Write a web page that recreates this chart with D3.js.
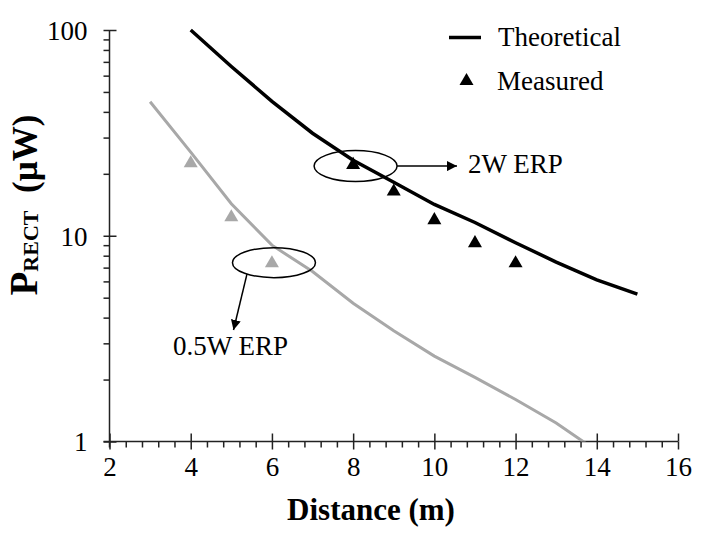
<!DOCTYPE html>
<html>
<head>
<meta charset="utf-8">
<script src="https://cdn.jsdelivr.net/npm/d3@7"></script>
<style>
  html, body { margin: 0; padding: 0; background: #fff; }
  svg { display: block; }
  text { font-family: "Liberation Serif", "Times New Roman", serif; fill: #000; }
</style>
</head>
<body>
<svg id="chart" width="702" height="535"></svg>
<script>
// ---- data ----
const theory2W_x = [4, 5, 6, 7, 8, 9, 10, 11, 12, 13, 14, 15];
const theory2W_y = [100, 66.5, 45, 31.5, 23.3, 18.2, 14.2, 11.6, 9.25, 7.45, 6.1, 5.2];
const theory05W_x = [3, 4, 5, 6, 7, 8, 9, 10, 11, 12, 13, 14, 15];
const theory05W_y = [44.8, 25.5, 14.3, 9.0, 6.7, 4.7, 3.45, 2.6, 2.05, 1.6, 1.23, 0.9, 0.72];
const meas2W_x = [8, 9, 10, 11, 12];
const meas2W_y = [22.1, 16.4, 11.9, 9.2, 7.35];
const meas05W_x = [4, 5, 6];
const meas05W_y = [22.5, 12.3, 7.35];
const xTicks = [2, 4, 6, 8, 10, 12, 14, 16];
const yTicks = [1, 10, 100];
const legendLabels = ["Theoretical", "Measured"];
const annotations = ["2W ERP", "0.5W ERP"];

// ---- layout ----
const svg = d3.select("#chart");
const X0 = 109.5, X1 = 678, Y0 = 441.5, Y1 = 30;
const x = d3.scaleLinear().domain([2, 16]).range([X0, X1]);
const y = d3.scaleLog().domain([1, 100]).range([Y0, Y1]);
const GRAY = "#a8a8a8";

svg.append("defs").append("clipPath").attr("id", "plotclip")
  .append("rect").attr("x", X0).attr("y", Y1 - 5).attr("width", X1 - X0).attr("height", Y0 - Y1 + 5);

// ---- axes ----
const axisColor = "#222";
const xMinor = d3.range(2, 16.001, 0.4).filter(v => Math.abs(v / 2 - Math.round(v / 2)) > 1e-6);
const gx = svg.append("g").attr("transform", `translate(0,${Y0})`);
gx.call(d3.axisBottom(x).tickValues(xTicks).tickSize(8).tickPadding(6).tickFormat(d3.format("d")));
gx.call(g => g.select(".domain").remove());
const gxUp = svg.append("g").attr("transform", `translate(0,${Y0})`);
gxUp.call(d3.axisBottom(x).tickValues(xTicks).tickSize(-8).tickFormat(""));
gxUp.select(".domain").remove();
const gxMin = svg.append("g").attr("transform", `translate(0,${Y0})`);
gxMin.call(d3.axisBottom(x).tickValues(xMinor).tickSize(6).tickFormat(""));
gxMin.select(".domain").remove();

const yMinor = [];
[1, 10].forEach(d => { for (let k = 2; k <= 9; k++) yMinor.push(d * k); });
const gy = svg.append("g").attr("transform", `translate(${X0},0)`);
gy.call(d3.axisLeft(y).tickValues(yTicks).tickSize(6).tickPadding(16).tickFormat(d3.format("d")));
gy.select(".domain").remove();
const gyR = svg.append("g").attr("transform", `translate(${X0},0)`);
gyR.call(d3.axisLeft(y).tickValues(yTicks).tickSize(-7).tickFormat(""));
gyR.select(".domain").remove();
const gyMin = svg.append("g").attr("transform", `translate(${X0},0)`);
gyMin.call(d3.axisLeft(y).tickValues(yMinor).tickSize(6).tickFormat(""));
gyMin.select(".domain").remove();

svg.selectAll(".tick line").attr("stroke", axisColor).attr("stroke-width", 1.5);
svg.selectAll(".tick text").attr("font-family", "Liberation Serif").attr("font-size", 27).attr("fill", "#000");
gx.selectAll(".tick text").attr("dy", "0.75em");
gy.selectAll(".tick text").attr("dy", "0.35em");

svg.append("line").attr("x1", X0 - 6).attr("x2", X1).attr("y1", Y0).attr("y2", Y0)
  .attr("stroke", axisColor).attr("stroke-width", 1.5);
svg.append("line").attr("x1", X0).attr("x2", X0).attr("y1", Y1).attr("y2", Y0 + 6)
  .attr("stroke", axisColor).attr("stroke-width", 1.5);

// axis titles
svg.append("text").attr("x", 371).attr("y", 520).attr("text-anchor", "middle")
  .attr("font-size", 31).attr("font-weight", "bold").text("Distance (m)");

const yl = svg.append("text").attr("transform", "translate(37,205) rotate(-90)")
  .attr("text-anchor", "middle").attr("font-weight", "bold");
yl.append("tspan").attr("font-size", 39).text("P");
yl.append("tspan").attr("font-size", 22).attr("dy", 1).text("RECT");
yl.append("tspan").attr("font-size", 35).attr("dy", -1).text("\u00A0\u00A0(\u00B5W)");

// ---- lines ----
const line = d3.line().x(d => x(d[0])).y(d => y(d[1]));
const plot = svg.append("g").attr("clip-path", "url(#plotclip)");
plot.append("path").datum(d3.zip(theory05W_x, theory05W_y)).attr("d", line)
  .attr("fill", "none").attr("stroke", GRAY).attr("stroke-width", 3);
plot.append("path").datum(d3.zip(theory2W_x, theory2W_y)).attr("d", line)
  .attr("fill", "none").attr("stroke", "#000").attr("stroke-width", 3.5);

// ---- markers ----
const tri = d3.symbol().type(d3.symbolTriangle).size(85);
svg.append("g").selectAll("path").data(d3.zip(meas05W_x, meas05W_y)).join("path")
  .attr("d", tri).attr("transform", d => `translate(${x(d[0])},${y(d[1])})`).attr("fill", GRAY);
svg.append("g").selectAll("path").data(d3.zip(meas2W_x, meas2W_y)).join("path")
  .attr("d", tri).attr("transform", d => `translate(${x(d[0])},${y(d[1])})`).attr("fill", "#000");

// ---- annotations ----
const defs = svg.select("defs");
defs.append("marker").attr("id", "arrow").attr("viewBox", "0 0 10 10").attr("refX", 10).attr("refY", 5)
  .attr("markerWidth", 10).attr("markerHeight", 10).attr("markerUnits", "userSpaceOnUse").attr("orient", "auto")
  .append("path").attr("d", "M0,0 L10,5 L0,10 Z").attr("fill", "#000");

svg.append("ellipse").attr("cx", x(8.06)).attr("cy", y(21.8)).attr("rx", 41.5).attr("ry", 15.5)
  .attr("fill", "none").attr("stroke", "#000").attr("stroke-width", 1.5);
svg.append("line").attr("x1", x(8.06) + 41.5).attr("y1", y(21.8)).attr("x2", 457).attr("y2", y(21.8))
  .attr("stroke", "#000").attr("stroke-width", 1.5).attr("marker-end", "url(#arrow)");
svg.append("text").attr("x", 468).attr("y", 173).attr("font-size", 27).text(annotations[0]);

const ex = x(6.05), ey = y(7.4);
svg.append("ellipse").attr("cx", ex).attr("cy", ey).attr("rx", 41.5).attr("ry", 15)
  .attr("fill", "none").attr("stroke", "#000").attr("stroke-width", 1.5);
svg.append("line").attr("x1", ex - 27).attr("y1", ey + 11.5).attr("x2", 233.5).attr("y2", 330)
  .attr("stroke", "#000").attr("stroke-width", 1.5).attr("marker-end", "url(#arrow)");
svg.append("text").attr("x", 173).attr("y", 355).attr("font-size", 27).text(annotations[1]);

// ---- legend ----
svg.append("line").attr("x1", 449).attr("x2", 481).attr("y1", 37.5).attr("y2", 37.5)
  .attr("stroke", "#000").attr("stroke-width", 3.5);
svg.append("text").attr("x", 498).attr("y", 46).attr("font-size", 27).text(legendLabels[0]);
svg.append("path").attr("d", tri).attr("transform", "translate(466.5,81)").attr("fill", "#000");
svg.append("text").attr("x", 497).attr("y", 90).attr("font-size", 27).text(legendLabels[1]);
</script>
</body>
</html>
